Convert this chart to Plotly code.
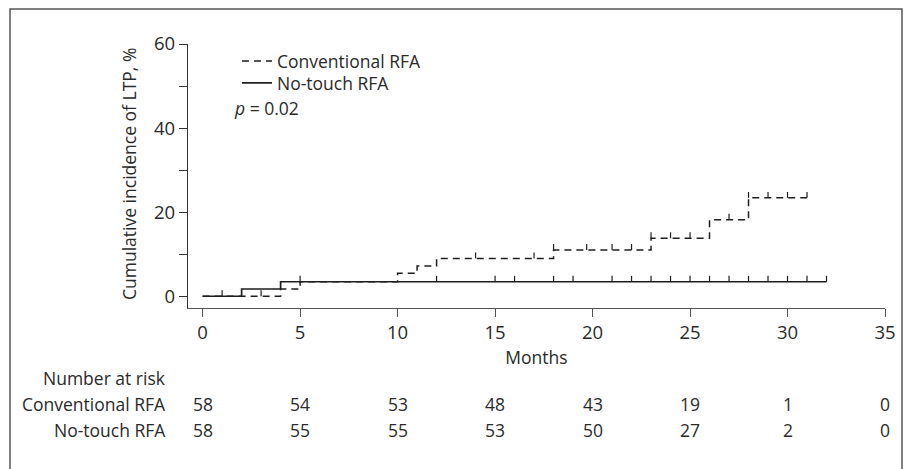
import plotly.graph_objects as go

# ---- data ----
conv_times = [0, 4, 5, 10, 11, 12, 18, 23, 26, 28, 31]
conv_cuminc = [0, 1.72, 3.45, 5.45, 7.2, 9.0, 11.0, 13.8, 18.2, 23.4, 23.4]
conv_censor = [3, 14, 17, 18, 19.7, 21, 22, 23, 24, 25, 27, 28, 29, 30, 31]

nt_times = [0, 2, 4, 32]
nt_cuminc = [0, 1.72, 3.45, 3.45]
nt_censor = [1, 5, 12, 15, 16, 18, 19, 21, 22, 23, 24, 25, 26, 27, 28, 29, 30, 31, 32]

risk_months = [0, 5, 10, 15, 20, 25, 30, 35]
risk_conv = [58, 54, 53, 48, 43, 19, 1, 0]
risk_nt = [58, 55, 55, 53, 50, 27, 2, 0]

x_ticks = [0, 5, 10, 15, 20, 25, 30, 35]
y_ticks = [0, 10, 20, 30, 40, 50, 60]
y_ticklabels = ["0", "", "20", "", "40", "", "60"]

FONT = "Open Sans"
TXT = "#2a2a2a"
LINE = "#1e1e1e"
TICK_H = 1.4
FS = 17.5
TFS = 18.5

# page is shown with an 8px body margin: figure is offset by (8, 8)
OFF = 8
W, H = 911 - OFF, 469 - OFF
# plot area in page pixels
PX0, PX1, PY0, PY1 = 188, 885, 44, 308
L, R, T, B = PX0 - OFF, W - (PX1 - OFF), PY0 - OFF, H - (PY1 - OFF)
pw, ph = W - L - R, H - T - B


def px_x(p):
    return (p - OFF - L) / pw


def px_y(p):
    return (H - B - (p - OFF)) / ph


def level_at(times, vals, t):
    v = vals[0]
    for ti, vi in zip(times, vals):
        if ti <= t:
            v = vi
    return v


def censor_xy(times, vals, cens):
    xs, ys = [], []
    for t in cens:
        lv = level_at(times, vals, t)
        xs += [t, t, None]
        ys += [lv, lv + TICK_H, None]
    return xs, ys


fig = go.Figure()

fig.add_trace(go.Scatter(
    x=conv_times, y=conv_cuminc, mode="lines", line_shape="hv",
    line=dict(color=LINE, width=1.5, dash="7px,5px"),
    name="Conventional RFA", legend="legend"))
fig.add_trace(go.Scatter(
    x=nt_times, y=nt_cuminc, mode="lines", line_shape="hv",
    line=dict(color=LINE, width=1.7),
    name="No-touch RFA", legend="legend2"))

cx, cy = censor_xy(conv_times, conv_cuminc, conv_censor)
fig.add_trace(go.Scatter(x=cx, y=cy, mode="lines", line=dict(color=LINE, width=1.2),
                         showlegend=False, hoverinfo="skip"))
nx, ny = censor_xy(nt_times, nt_cuminc, nt_censor)
fig.add_trace(go.Scatter(x=nx, y=ny, mode="lines", line=dict(color=LINE, width=1.2),
                         showlegend=False, hoverinfo="skip"))

annotations = []
annotations.append(dict(text="Cumulative incidence of LTP, %", xref="paper", yref="paper",
                        x=px_x(129), y=px_y(174), textangle=-90, showarrow=False,
                        font=dict(size=FS, color=TXT, family=FONT),
                        xanchor="center", yanchor="middle"))
annotations.append(dict(text="<i>p</i> = 0.02", xref="paper", yref="paper",
                        x=px_x(232), y=px_y(108), showarrow=False,
                        xanchor="left", yanchor="middle",
                        font=dict(size=FS, color=TXT, family=FONT)))
annotations.append(dict(text="Number at risk", xref="paper", yref="paper",
                        x=px_x(168), y=px_y(378), showarrow=False, xanchor="right", yanchor="middle",
                        font=dict(size=FS, color=TXT, family=FONT)))
for label, vals, ypix in [("Conventional RFA", risk_conv, 404), ("No-touch RFA", risk_nt, 430)]:
    annotations.append(dict(text=label, xref="paper", yref="paper",
                            x=px_x(168), y=px_y(ypix), showarrow=False, xanchor="right", yanchor="middle",
                            font=dict(size=FS, color=TXT, family=FONT)))
    for m, v in zip(risk_months, vals):
        annotations.append(dict(text=str(v), xref="x", yref="paper", x=m, y=px_y(ypix),
                                showarrow=False, xanchor="center", yanchor="middle",
                                font=dict(size=FS, color=TXT, family=FONT)))

shapes = [dict(type="path", xref="paper", yref="paper",
               path=f"M {px_x(10)},{px_y(490)} L {px_x(10)},{px_y(9)} L {px_x(902)},{px_y(9)} L {px_x(902)},{px_y(490)}",
               line=dict(color="#555555", width=1.5))]

leg_common = dict(xanchor="left", yanchor="top", bgcolor="rgba(0,0,0,0)",
                  font=dict(size=FS, color=TXT, family=FONT), tracegroupgap=0)

fig.update_layout(
    width=W, height=H,
    margin=dict(l=L, r=R, t=T, b=B, pad=0),
    paper_bgcolor="white", plot_bgcolor="white",
    font=dict(family=FONT, size=FS, color=TXT),
    showlegend=True,
    legend=dict(x=px_x(237), y=px_y(43), **leg_common),
    legend2=dict(x=px_x(237), y=px_y(65), **leg_common),
    annotations=annotations,
    shapes=shapes,
    xaxis=dict(range=[-0.75, 35], tickvals=x_ticks, ticks="outside", ticklen=8,
               tickcolor="#555555", tickwidth=1.2,
               showline=True, linecolor="#555555", linewidth=1.3,
               showgrid=False, zeroline=False,
               title=dict(text="Months", standoff=8, font=dict(size=FS, color=TXT)),
               tickfont=dict(size=TFS, color=TXT)),
    yaxis=dict(range=[-2.8, 60], tickvals=y_ticks, ticktext=y_ticklabels,
               ticks="outside", ticklen=8, tickcolor="#333333", tickwidth=1.2,
               showline=True, linecolor="#333333", linewidth=1.3,
               showgrid=False, zeroline=False,
               tickfont=dict(size=TFS, color=TXT)),
)

fig.write_html("out.html")
